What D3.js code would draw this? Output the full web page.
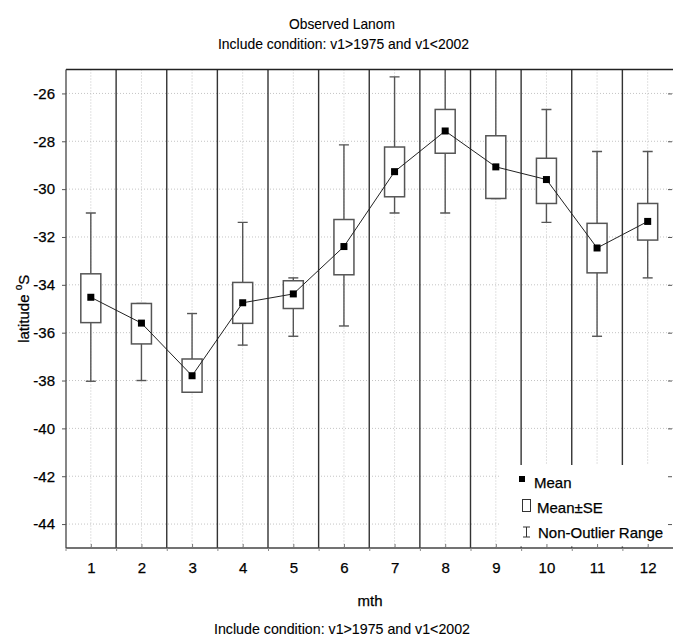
<!DOCTYPE html>
<html><head><meta charset="utf-8">
<script src="https://cdn.jsdelivr.net/npm/d3@7"></script>
<style>
html,body{margin:0;padding:0;background:#fff;}
svg{display:block;font-family:"Liberation Sans",Arial,sans-serif;}
</style></head>
<body>
<svg id="chart" width="673" height="642"></svg>
<script>
const months = [1,2,3,4,5,6,7,8,9,10,11,12];
const means    = [-34.52,-35.60,-37.80,-34.75,-34.38,-32.40,-29.27,-27.57,-29.07,-29.60,-32.46,-31.35];
const seLow    = [-35.58,-36.47,-38.49,-35.61,-34.99,-33.58,-30.32,-28.50,-30.39,-30.60,-33.50,-32.13];
const seHigh   = [-33.54,-34.78,-37.10,-33.90,-33.83,-31.27,-28.24,-26.67,-27.77,-28.71,-31.43,-30.60];
const rangeMin = [-38.03,-38.00,-38.49,-36.52,-36.15,-35.72,-31.00,-31.00,-30.39,-31.39,-36.15,-33.71];
const rangeMax = [-31.00,-34.78,-35.20,-31.39,-33.71,-28.15,-25.31,-24.00,-24.00,-26.67,-28.43,-28.43];
const yTicks = [-44,-42,-40,-38,-36,-34,-32,-30,-28,-26];
const title1 = "Observed Lanom";
const title2 = "Include condition: v1>1975 and v1<2002";
const footer = "Include condition: v1>1975 and v1<2002";
const xLabel = "mth";
const legendLabels = ["Mean","Mean\u00B1SE","Non-Outlier Range"];

const L = 66, R = 673, T = 69.5, B = 548;
const svg = d3.select("#chart");
const x = d3.scaleLinear().domain([0.5,12.5]).range([L-0.5,R]);
const y = d3.scaleLinear().domain([-45,-25]).range([B,T]);

svg.append("defs").append("clipPath").attr("id","clip")
  .append("rect").attr("x",L).attr("y",T).attr("width",R-L).attr("height",B-T);

function txt(sel){ return sel.attr("fill","#000").attr("stroke","#000").attr("stroke-width",0.25); }

// titles
txt(svg.append("text").attr("x",342).attr("y",28.5).attr("text-anchor","middle")
  .attr("font-size",15).attr("textLength",106).attr("lengthAdjust","spacingAndGlyphs")).attr("stroke-width",0.1).text(title1);
txt(svg.append("text").attr("x",343.5).attr("y",48.5).attr("text-anchor","middle")
  .attr("font-size",14.5).attr("textLength",251).attr("lengthAdjust","spacingAndGlyphs")).attr("stroke-width",0.1).text(title2);

const plot = svg.append("g").attr("clip-path","url(#clip)");

// gridlines
plot.selectAll("line.hg").data(yTicks).join("line")
  .attr("x1",L).attr("x2",R).attr("y1",d=>y(d)).attr("y2",d=>y(d))
  .attr("stroke","#c4c4c4").attr("stroke-width",1).attr("stroke-dasharray","1,2");
plot.selectAll("line.vg").data(months).join("line")
  .attr("x1",d=>x(d)).attr("x2",d=>x(d)).attr("y1",T).attr("y2",B)
  .attr("stroke","#c4c4c4").attr("stroke-width",1).attr("stroke-dasharray","1,2");

// separators
const seps = d3.range(1.5,12.5,1);
plot.selectAll("line.sep").data(seps).join("line")
  .attr("x1",d=>x(d)).attr("x2",d=>x(d)).attr("y1",T).attr("y2",B)
  .attr("stroke","#333").attr("stroke-width",1.4);

// legend background
const lgX = 500, lgY = 465;
svg.append("rect").attr("x",lgX).attr("y",lgY).attr("width",R-lgX).attr("height",B-lgY-1.5).attr("fill","#fff");

// whiskers and boxes
const bw = 20, cw = 10;
const wg = svg.append("g").attr("clip-path","url(#clip)");
months.forEach((m,i)=>{
  const cx = x(m);
  wg.append("line").attr("x1",cx).attr("x2",cx).attr("y1",y(rangeMax[i])).attr("y2",y(rangeMin[i]))
    .attr("stroke","#555").attr("stroke-width",1.4);
  [rangeMax[i],rangeMin[i]].forEach(v=>{
    wg.append("line").attr("x1",cx-cw/2).attr("x2",cx+cw/2).attr("y1",y(v)).attr("y2",y(v))
      .attr("stroke","#555").attr("stroke-width",1.4);
  });
  wg.append("rect").attr("x",cx-bw/2).attr("y",y(seHigh[i])).attr("width",bw)
    .attr("height",y(seLow[i])-y(seHigh[i])).attr("fill","#fff").attr("stroke","#555").attr("stroke-width",1.5);
});

// mean line and markers
const line = d3.line().x((d,i)=>x(months[i])).y(d=>y(d));
wg.append("path").datum(means).attr("d",line).attr("fill","none").attr("stroke","#222").attr("stroke-width",1);
wg.selectAll("rect.mean").data(means).join("rect")
  .attr("x",(d,i)=>x(months[i])-3.5).attr("y",d=>y(d)-3.5).attr("width",7).attr("height",7).attr("fill","#000");

// frame
svg.append("line").attr("x1",L).attr("x2",R).attr("y1",T).attr("y2",T).attr("stroke","#222").attr("stroke-width",1.3);
svg.append("line").attr("x1",L).attr("x2",R).attr("y1",B).attr("y2",B).attr("stroke","#444").attr("stroke-width",1.3);
svg.append("line").attr("x1",L).attr("x2",L).attr("y1",T).attr("y2",B).attr("stroke","#444").attr("stroke-width",1.3);

// y axis
const yAxis = d3.axisLeft(y).tickValues(yTicks).tickSize(4).tickPadding(7).tickFormat(d=>String(d));
const ya = svg.append("g").attr("transform",`translate(${L},0)`).call(yAxis);
ya.select(".domain").remove();
ya.selectAll(".tick line").attr("stroke","#555");
txt(ya.selectAll(".tick text").attr("font-size",15).attr("font-family","Liberation Sans, Arial, sans-serif"));
// right ticks
const yAxisR = d3.axisLeft(y).tickValues(yTicks).tickSize(4).tickFormat("");
const yr = svg.append("g").attr("transform",`translate(${R-1},0)`).call(yAxisR);
yr.select(".domain").remove();
yr.selectAll(".tick line").attr("x2",-4).attr("stroke","#555");

// x axis
const xAxis = d3.axisBottom(x).tickValues(months).tickSize(-4).tickPadding(14).tickFormat(d3.format("d"));
const xa = svg.append("g").attr("transform",`translate(0,${B})`).call(xAxis);
xa.select(".domain").remove();
xa.selectAll(".tick line").attr("stroke","#777");
txt(xa.selectAll(".tick text").attr("font-size",15).attr("font-family","Liberation Sans, Arial, sans-serif"));
const xAxisMinor = d3.axisBottom(x).tickValues(d3.range(0.5,13,1)).tickSize(3).tickFormat("");
const xm = svg.append("g").attr("transform",`translate(0,${B})`).call(xAxisMinor);
xm.select(".domain").remove();
xm.selectAll(".tick line").attr("stroke","#888");

// axis titles
txt(svg.append("text").attr("x",370).attr("y",606).attr("text-anchor","middle")
  .attr("font-size",15)).text(xLabel);
const yl = txt(svg.append("text").attr("transform",`translate(29,${(T+B)/2}) rotate(-90)`)
  .attr("text-anchor","middle").attr("font-size",15));
yl.append("tspan").text("latitude ");
yl.append("tspan").attr("font-size",10).attr("dy",-7).text("o");
yl.append("tspan").attr("dy",7).text("S");

txt(svg.append("text").attr("x",342).attr("y",634).attr("text-anchor","middle")
  .attr("font-size",14.5).attr("textLength",256).attr("lengthAdjust","spacingAndGlyphs")).attr("stroke-width",0.1).text(footer);

// legend
const lg = svg.append("g");
lg.append("rect").attr("x",519).attr("y",476).attr("width",6).attr("height",6).attr("fill","#000");
txt(lg.append("text").attr("x",534).attr("y",488).attr("font-size",15)).text(legendLabels[0]);
lg.append("rect").attr("x",522.5).attr("y",499.5).attr("width",8).attr("height",12).attr("fill","#fff").attr("stroke","#333").attr("stroke-width",1);
txt(lg.append("text").attr("x",537).attr("y",513).attr("font-size",15)).text(legendLabels[1]);
lg.append("line").attr("x1",526.5).attr("x2",526.5).attr("y1",527).attr("y2",537).attr("stroke","#333");
lg.append("line").attr("x1",523).attr("x2",530).attr("y1",527).attr("y2",527).attr("stroke","#333");
lg.append("line").attr("x1",523).attr("x2",530).attr("y1",537).attr("y2",537).attr("stroke","#333");
txt(lg.append("text").attr("x",538).attr("y",538).attr("font-size",15)).text(legendLabels[2]);
</script>
</body></html>
